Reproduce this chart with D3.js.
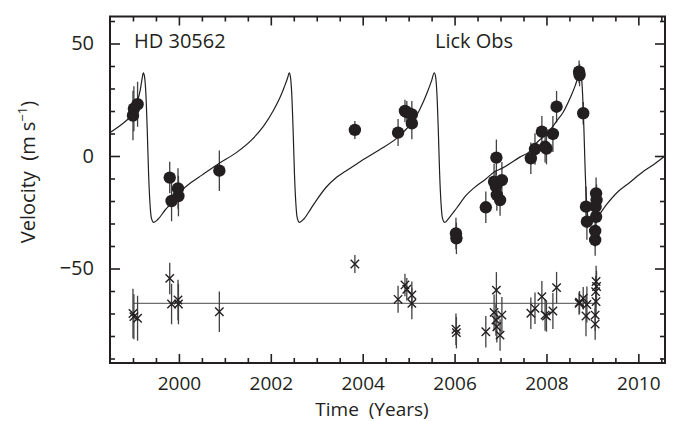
<!DOCTYPE html>
<html><head><meta charset="utf-8">
<script src="https://cdn.jsdelivr.net/npm/d3@7"></script>
<style>
body{margin:0;background:#fff}
svg text{font-family:"Open Sans",sans-serif;fill:#231f20}
</style>
</head><body>
<svg id="c" width="678" height="421"></svg>
<script>
const obsTime  = [1999.00,1999.02,1999.10,1999.80,1999.84,1999.98,1999.99,2000.88,2003.83,2004.77,2004.92,2004.96,2005.07,2005.07,2006.03,2006.04,2006.68,2006.86,2006.91,2006.90,2006.92,2006.99,2007.03,2007.66,2007.75,2007.90,2007.97,2008.00,2008.14,2008.22,2008.71,2008.72,2008.80,2008.86,2008.88,2009.08,2009.09,2009.07,2009.08,2009.06,2009.06];
const obsVel   = [18.0,21.0,23.0,-9.6,-20.0,-14.4,-17.8,-6.5,11.6,10.4,20.0,19.5,18.5,14.5,-34.4,-36.6,-22.8,-11.4,-0.7,-13.5,-17.3,-19.6,-10.7,-1.0,3.1,10.8,4.1,3.3,9.8,21.9,37.5,36.0,19.0,-22.5,-29.2,-16.6,-19.6,-22.5,-27.0,-33.3,-37.3];
const obsErr   = [11,10,10,7,9,9,9,9,4,6,5,5,6,7,7,7,7,8,8,7,7,7,8,7,7,7,7,7,8,7,5,5,5,9,8,7,7,7,7,7,7];
const obsResid = [-70.0,-71.4,-72.1,-54.4,-65.8,-64.0,-65.8,-69.2,-48.0,-63.7,-57.3,-59.2,-61.8,-65.5,-77.0,-78.5,-78.1,-69.5,-59.6,-72.9,-75.9,-79.6,-70.7,-69.9,-67.7,-62.5,-70.7,-71.1,-68.9,-58.5,-65.5,-65.0,-63.2,-71.1,-66.0,-55.8,-58.0,-60.3,-64.7,-70.7,-74.7];
const residLevel = -65.5;
const residSpan = [1999.00, 2009.09];

// Orbit model curve
const modelTime = [1998.50,1998.75,1998.92,1999.00,1999.10,1999.16,1999.20,1999.225,1999.25,1999.28,1999.31,1999.34,1999.37,1999.40,1999.45,1999.55,1999.70,1999.85,2000.00,2000.25,2000.50,2000.88,2001.25,2001.60,2001.85,2002.05,2002.20,2002.30,2002.37,2002.40,2002.425,2002.455,2002.485,2002.515,2002.545,2002.575,2002.625,2002.72,2002.87,2003.00,2003.20,2003.40,2003.70,2003.95,2004.35,2004.77,2004.95,2005.07,2005.25,2005.40,2005.50,2005.558,2005.585,2005.615,2005.645,2005.675,2005.705,2005.735,2005.785,2005.88,2006.05,2006.25,2006.41,2006.68,2006.87,2007.03,2007.42,2007.66,2007.75,2007.90,2007.97,2008.14,2008.22,2008.35,2008.52,2008.63,2008.70,2008.73,2008.755,2008.785,2008.815,2008.845,2008.875,2008.905,2008.97,2009.09,2009.31,2009.55,2009.80,2010.10,2010.32,2010.58];
const modelVel  = [10.4,14.0,17.0,19.0,24.5,29.5,34.5,37.0,35.5,28.0,12.0,-8.0,-21.0,-27.5,-29.5,-28.0,-24.0,-20.5,-16.5,-12.0,-8.5,-3.2,1.5,7.5,13.5,20.0,26.0,31.0,35.0,37.0,35.5,28.0,12.0,-8.0,-21.0,-27.5,-29.5,-28.0,-23.5,-19.5,-14.0,-10.0,-5.8,-2.4,2.6,8.4,12.0,14.7,21.0,28.0,33.5,37.0,35.5,28.0,12.0,-8.0,-21.0,-27.5,-29.5,-27.5,-23.0,-17.5,-14.4,-10.2,-7.0,-5.5,-0.5,2.5,5.0,8.0,9.3,13.2,15.5,19.0,26.0,31.5,36.0,37.5,36.0,28.0,12.0,-8.0,-21.0,-27.5,-29.5,-27.5,-21.5,-16.0,-12.0,-7.0,-4.0,0.0];

const xMajorTicks = [2000,2002,2004,2006,2008,2010];
const xMinorTicks = [1999,1999.5,2000.5,2001,2001.5,2002.5,2003,2003.5,2004.5,2005,2005.5,2006.5,2007,2007.5,2008.5,2009,2009.5,2010.5];
const yMajorTicks = [-50,0,50];
const yMinorTicks = [-90,-80,-70,-60,-40,-30,-20,-10,10,20,30,40,60];

const svg = d3.select("#c");
const L = 110, R = 665, T = 16.5, B = 363;
const x = d3.scaleLinear().domain([1998.5, 2010.58]).range([L, R]);
const y = d3.scaleLinear().domain([-92, 62]).range([B, T]);
const ink = "#231f20";

// axes (ticks inward)
function styleAxis(g){ g.select(".domain").remove(); g.selectAll("line").attr("stroke", ink).attr("stroke-width", 1.6); }
svg.append("g").attr("transform",`translate(0,${B})`)
  .call(d3.axisBottom(x).tickValues(xMajorTicks).tickSize(-9).tickPadding(13.5).tickFormat(d3.format("d")))
  .call(styleAxis).selectAll("text").attr("font-size",19).attr("fill",ink);
svg.append("g").attr("transform",`translate(0,${B})`)
  .call(d3.axisBottom(x).tickValues(xMinorTicks).tickSize(-5).tickFormat(""))
  .call(styleAxis);
svg.append("g").attr("transform",`translate(0,${T})`)
  .call(d3.axisTop(x).tickValues(xMajorTicks).tickSize(-9).tickFormat(""))
  .call(styleAxis);
svg.append("g").attr("transform",`translate(0,${T})`)
  .call(d3.axisTop(x).tickValues(xMinorTicks).tickSize(-5).tickFormat(""))
  .call(styleAxis);
svg.append("g").attr("transform",`translate(${L},0)`)
  .call(d3.axisLeft(y).tickValues(yMajorTicks).tickSize(-10).tickPadding(16).tickFormat(d => d < 0 ? "\u2212" + Math.abs(d) : d))
  .call(styleAxis).selectAll("text").attr("font-size",20).attr("fill",ink);
svg.append("g").attr("transform",`translate(${L},0)`)
  .call(d3.axisLeft(y).tickValues(yMinorTicks).tickSize(-5).tickFormat(""))
  .call(styleAxis);
svg.append("g").attr("transform",`translate(${R},0)`)
  .call(d3.axisRight(y).tickValues(yMajorTicks).tickSize(-10).tickFormat(""))
  .call(styleAxis);
svg.append("g").attr("transform",`translate(${R},0)`)
  .call(d3.axisRight(y).tickValues(yMinorTicks).tickSize(-5).tickFormat(""))
  .call(styleAxis);

// residual reference line
svg.append("line")
  .attr("x1", x(residSpan[0])).attr("x2", x(residSpan[1]))
  .attr("y1", y(residLevel)).attr("y2", y(residLevel))
  .attr("stroke", "#6d6e71").attr("stroke-width", 1.3);

const obs = obsTime.map((t,i) => ({t, v: obsVel[i], e: obsErr[i], r: obsResid[i]}));

// error bars (velocities and residuals)
svg.append("g").selectAll("line").data(obs).join("line")
  .attr("x1", d => x(d.t)).attr("x2", d => x(d.t))
  .attr("y1", d => y(d.v - d.e)).attr("y2", d => y(d.v + d.e))
  .attr("stroke", "#414042").attr("stroke-width", 1.3);
svg.append("g").selectAll("line").data(obs).join("line")
  .attr("x1", d => x(d.t)).attr("x2", d => x(d.t))
  .attr("y1", d => y(d.r - d.e)).attr("y2", d => y(d.r + d.e))
  .attr("stroke", "#414042").attr("stroke-width", 1.3);

// model curve
const model = modelTime.map((t,i) => [t, modelVel[i]]);
svg.append("path").datum(model)
  .attr("d", d3.line().x(d => x(d[0])).y(d => y(d[1])).curve(d3.curveMonotoneX))
  .attr("fill","none").attr("stroke", ink).attr("stroke-width", 1.2);

// velocity points
svg.append("g").selectAll("circle").data(obs).join("circle")
  .attr("cx", d => x(d.t)).attr("cy", d => y(d.v)).attr("r", 6.2)
  .attr("fill", ink);

// residual markers
const s = 4.2;
svg.append("g").selectAll("path").data(obs).join("path")
  .attr("d", d => { const cx = x(d.t), cy = y(d.r); return `M${cx-s},${cy-s}L${cx+s},${cy+s}M${cx-s},${cy+s}L${cx+s},${cy-s}`; })
  .attr("stroke", ink).attr("stroke-width", 1.4).attr("fill","none");

// frame
svg.append("rect").attr("x", L).attr("y", T).attr("width", R-L).attr("height", B-T)
  .attr("fill","none").attr("stroke", ink).attr("stroke-width", 2);

// texts
svg.append("text").attr("x", 134).attr("y", 48).attr("font-size", 20).text("HD 30562");
svg.append("text").attr("x", 435).attr("y", 48).attr("font-size", 20).text("Lick Obs");

svg.append("text").attr("x", 372).attr("y", 416).attr("text-anchor","middle").attr("font-size", 19)
  .style("white-space","pre").text("Time  (Years)");

const yl = svg.append("text").attr("transform","translate(35,172) rotate(-90)")
  .attr("text-anchor","middle").attr("font-size", 20).style("white-space","pre");
yl.append("tspan").text("Velocity  (m s");
yl.append("tspan").attr("font-size", 13).attr("dy", -8).text("\u22121");
yl.append("tspan").attr("dy", 8).text(")");
</script>
</body></html>
